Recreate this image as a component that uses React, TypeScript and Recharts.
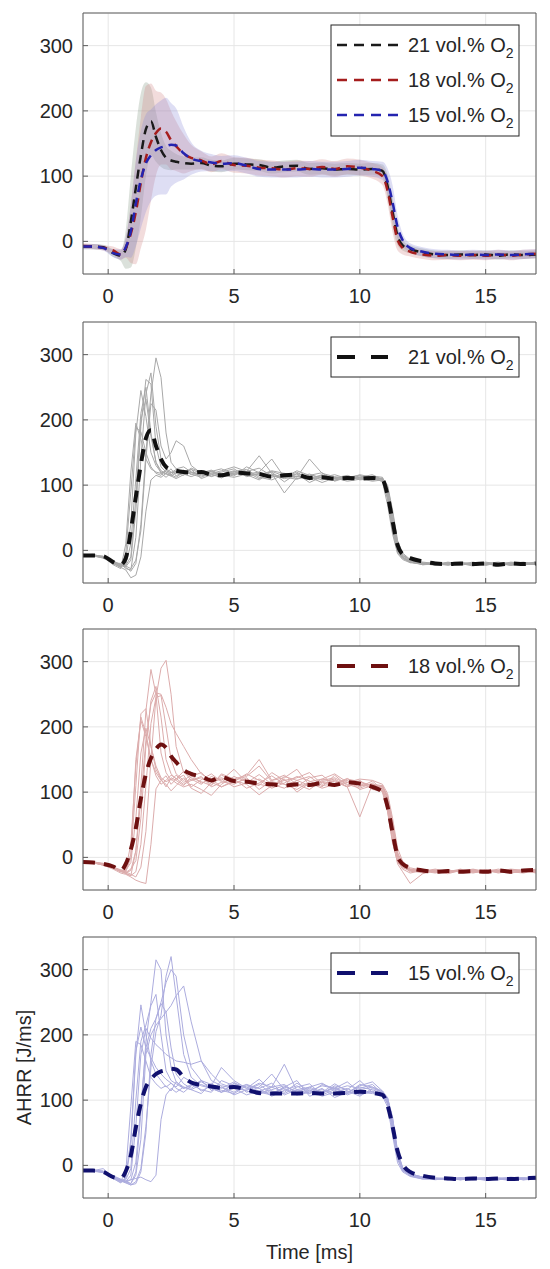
import React from "react";
import { ComposedChart, Line, Area, XAxis, YAxis, CartesianGrid } from "recharts";

// time grid [ms]
const time = [
  -1, -0.6, -0.2, 0.2, 0.5, 0.7, 0.9, 1.1, 1.3, 1.5, 1.7, 1.9, 2.1, 2.3, 2.5, 2.7, 3.0, 3.3, 3.7, 4.1, 4.5,
  5.0, 5.5, 6.0, 6.5, 7.0, 7.5, 8.0, 8.5, 9.0, 9.5, 10.0, 10.5, 10.9, 11.1, 11.3, 11.5, 11.7, 12.0, 12.5,
  13.0, 13.5, 14.0, 14.5, 15.0, 15.5, 16.0, 16.5, 17.0,
];

// mean AHRR per O2 level
const mean21 = [-8,-8,-9,-18,-22,-12,30,82,132,172,184,160,140,128,124,122,120,119,120,116,115,119,118,117,113,115,116,111,112,110,111,110,111,108,85,45,8,-6,-12,-17,-20,-21,-20,-21,-20,-22,-20,-21,-20];
const mean18 = [-7,-8,-10,-14,-20,-10,12,45,90,128,152,166,173,168,155,146,134,128,124,118,123,117,116,113,112,110,112,111,114,111,115,113,108,100,78,38,2,-10,-16,-20,-22,-21,-22,-21,-22,-20,-22,-20,-19];
const mean15 = [-8,-8,-10,-18,-20,-9,15,58,95,120,132,140,144,146,148,147,135,127,123,121,119,120,116,111,110,110,110,111,110,110,111,113,111,108,92,60,22,2,-10,-16,-19,-20,-21,-20,-21,-20,-21,-20,-19];

// spread of the shaded bands
const spread21 = [4,4,4,6,8,30,70,92,95,72,52,38,26,18,15,12,10,9,9,9,9,9,9,9,9,9,9,9,9,9,9,9,9,10,18,22,14,8,6,6,6,6,6,6,6,6,6,6,6];
const spread18 = [4,4,4,6,8,15,45,80,100,110,90,65,55,50,45,38,30,20,14,12,12,12,12,12,12,12,12,12,12,12,12,12,12,14,20,24,16,10,7,7,7,7,7,7,7,7,7,7,7];
const spread15 = [4,4,4,6,8,15,40,65,75,75,70,70,72,74,64,57,40,25,16,13,12,12,12,12,12,12,12,12,12,12,12,12,12,14,20,26,18,10,7,7,7,7,7,7,7,7,7,7,7];

// single runs, 21 vol.% O2
const runs21 = [
  [-6,-7,-10,-22,-28,10,120,195,170,140,125,120,118,122,119,121,118,120,116,114,117,122,115,118,112,118,110,113,108,112,109,112,110,107,80,30,-2,-12,-16,-20,-22,-19,-21,-18,-22,-20,-23,-19,-21],
  [-8,-8,-9,-20,-25,-5,90,188,182,150,128,118,115,124,116,112,120,124,118,121,125,116,120,110,117,112,120,108,115,111,106,109,113,110,95,52,8,-8,-14,-18,-20,-23,-19,-22,-20,-18,-21,-22,-20],
  [-7,-6,-11,-18,-24,-22,10,110,210,250,180,135,122,118,125,114,121,117,112,119,114,121,124,112,108,116,113,117,110,107,113,110,106,108,88,40,2,-10,-18,-21,-19,-22,-20,-24,-19,-21,-20,-18,-22],
  [-8,-9,-10,-16,-22,-25,-15,60,190,262,255,160,128,120,116,122,118,126,120,113,118,114,128,119,115,110,114,109,112,116,110,114,112,105,70,25,-5,-14,-19,-20,-22,-18,-21,-20,-23,-19,-22,-21,-19],
  [-6,-8,-12,-19,-20,-28,-30,20,140,240,272,190,140,125,120,118,115,124,110,116,120,125,113,117,120,105,118,112,104,111,115,108,110,109,90,45,5,-10,-17,-22,-20,-21,-23,-19,-20,-22,-18,-20,-21],
  [-7,-7,-9,-17,-23,-26,-32,-20,40,150,240,295,265,180,135,125,128,120,117,122,116,118,121,126,114,112,109,115,112,110,114,111,109,110,98,58,12,-6,-15,-19,-21,-20,-22,-20,-21,-19,-23,-20,-18],
  [-8,-9,-11,-18,-22,-24,-28,-15,30,140,225,215,160,140,150,168,160,130,118,121,113,117,119,115,122,118,113,110,116,108,112,115,107,111,100,62,15,-4,-14,-20,-19,-21,-20,-22,-21,-20,-19,-22,-20],
  [-7,-8,-10,-20,-26,-30,-42,-38,-10,60,108,115,112,118,114,110,116,119,114,117,111,120,116,108,121,114,117,104,113,110,108,112,116,108,85,35,0,-12,-18,-21,-22,-20,-19,-21,-22,-20,-21,-19,-20],
  [-9,-8,-10,-20,-26,-15,40,180,245,205,150,130,120,117,114,119,123,116,120,118,122,128,121,145,118,88,112,140,118,113,110,116,112,109,78,32,-4,-12,-18,-22,-21,-19,-20,-22,-18,-21,-20,-22,-21],
  [-7,-8,-11,-19,-24,-23,-10,80,200,232,175,135,118,112,119,124,117,113,119,123,115,112,117,120,140,112,122,115,119,106,112,109,114,112,92,48,6,-8,-16,-20,-23,-21,-19,-20,-21,-23,-20,-19,-22],
];

// single runs, 18 vol.% O2
const runs18 = [
  [-6,-8,-12,-15,-22,-18,20,140,215,190,150,130,118,125,112,120,126,108,119,128,116,112,122,104,118,126,112,110,120,116,108,118,104,102,72,25,-8,-16,-20,-24,-20,-22,-18,-23,-21,-20,-24,-19,-20],
  [-8,-7,-10,-16,-20,-22,0,110,220,228,170,135,120,108,122,118,110,124,130,115,120,108,114,127,112,106,118,124,110,113,121,110,112,106,80,35,-5,-18,-24,-20,-22,-25,-20,-22,-19,-24,-21,-20,-22],
  [-7,-8,-11,-14,-21,-25,-28,10,110,225,288,250,160,130,118,126,115,120,112,124,118,135,115,120,110,118,122,130,112,118,108,115,109,110,92,50,5,-12,-19,-22,-21,-19,-23,-20,-22,-18,-22,-24,-20],
  [-8,-9,-10,-15,-20,-22,-26,-30,-15,40,150,245,290,302,250,170,130,122,116,110,128,120,106,114,125,112,104,116,120,128,115,108,117,104,86,40,0,-14,-22,-20,-23,-20,-21,-24,-20,-22,-19,-21,-23],
  [-7,-7,-9,-16,-22,-24,-20,10,90,180,235,252,250,230,205,190,170,150,128,118,122,114,120,112,108,124,118,110,115,112,120,116,110,108,95,55,8,-10,-18,-22,-19,-21,-20,-22,-23,-20,-21,-19,-22],
  [-6,-8,-12,-18,-24,-26,-30,-35,-38,-40,20,105,118,112,102,110,122,106,98,115,108,118,112,96,110,120,100,114,106,112,118,104,110,102,75,28,-10,-22,-40,-25,-20,-23,-21,-18,-22,-20,-24,-21,-19],
  [-8,-8,-10,-17,-20,-23,-18,-5,60,170,240,262,215,150,128,120,132,118,122,112,126,118,124,140,116,112,108,122,126,110,115,120,118,112,98,60,14,-6,-16,-20,-22,-21,-20,-19,-21,-22,-20,-22,-20],
  [-7,-9,-11,-15,-19,-20,-8,60,160,198,170,140,122,116,120,114,108,112,104,95,112,124,116,110,130,118,112,104,118,122,112,106,114,100,70,22,-6,-14,-20,-21,-18,-22,-20,-21,-19,-20,-23,-22,-18],
  [-6,-7,-10,-16,-21,-24,-28,-22,20,110,205,245,248,200,150,128,118,126,114,120,108,116,128,118,106,114,124,117,108,126,110,113,106,109,90,48,4,-12,-19,-21,-24,-20,-22,-20,-21,-23,-19,-20,-21],
  [-8,-8,-11,-17,-22,-20,5,150,210,185,150,125,112,118,126,121,112,118,124,108,115,120,126,150,118,122,135,110,116,120,108,62,112,110,88,42,2,-12,-18,-20,-22,-24,-19,-20,-22,-21,-18,-20,-24],
];

// single runs, 15 vol.% O2
const runs15 = [
  [-7,-8,-5,-18,-24,-10,90,190,185,160,135,125,118,122,114,128,120,116,124,118,112,126,120,114,110,118,108,112,116,110,114,109,113,108,98,56,10,-8,-15,-19,-21,-20,-22,-19,-20,-21,-18,-20,-22],
  [-8,-8,-9,-20,-26,-20,30,170,246,200,160,140,130,120,126,118,112,122,130,115,120,112,124,118,106,115,122,110,118,104,112,120,116,110,104,70,18,-4,-13,-18,-20,-22,-20,-21,-19,-22,-20,-21,-20],
  [-7,-7,-10,-18,-22,-25,-28,-10,80,190,250,315,300,200,150,128,118,124,116,112,130,122,114,108,120,112,126,114,110,120,108,115,112,107,96,60,14,-5,-14,-19,-20,-21,-19,-22,-21,-20,-19,-21,-20],
  [-8,-9,-11,-19,-24,-27,-30,-25,-5,60,150,205,230,290,320,260,170,135,122,118,112,125,118,132,114,110,120,125,108,116,122,118,124,110,100,66,16,-6,-16,-20,-22,-20,-21,-20,-23,-19,-20,-22,-21],
  [-7,-8,-10,-17,-23,-26,-22,5,90,180,210,225,250,280,300,290,200,150,130,124,118,128,112,120,140,116,108,114,122,118,128,112,110,109,94,54,10,-8,-16,-21,-20,-22,-19,-20,-21,-22,-20,-19,-20],
  [-8,-8,-9,-16,-21,-24,-28,-15,40,170,200,215,225,235,245,260,275,220,160,130,122,118,115,124,110,120,130,106,112,118,110,124,120,112,102,72,20,-4,-14,-19,-21,-20,-22,-21,-19,-20,-22,-21,-20],
  [-7,-9,-10,-19,-25,-22,-5,100,190,215,245,262,200,145,130,125,118,122,128,120,115,110,122,118,126,108,116,120,112,125,114,106,118,112,99,62,12,-7,-15,-20,-19,-21,-20,-22,-20,-21,-23,-20,-19],
  [-8,-8,-10,-18,-22,-24,-22,-20,-18,-22,-25,-15,70,108,118,112,120,116,110,126,112,118,108,114,120,124,110,116,106,112,118,108,114,106,90,46,4,-10,-17,-21,-20,-19,-21,-20,-22,-20,-21,-19,-21],
  [-7,-7,-9,-17,-23,-25,-15,60,170,210,195,185,178,170,165,160,158,155,160,140,125,118,124,110,116,122,112,120,126,115,110,116,120,114,101,68,15,-5,-14,-18,-21,-20,-19,-21,-20,-22,-19,-20,-21],
  [-9,-8,-11,-20,-27,-18,40,175,212,180,165,150,140,132,126,120,135,128,114,122,150,130,118,112,108,120,114,110,124,118,112,122,128,114,104,74,22,-3,-13,-18,-20,-21,-22,-20,-19,-21,-20,-22,-20],
  [-8,-8,-10,-18,-23,-26,-30,-28,-10,50,170,225,248,235,180,140,125,118,130,115,120,108,116,126,120,155,114,118,110,122,116,130,112,108,96,58,10,-6,-15,-20,-21,-22,-20,-19,-20,-21,-20,-22,-21],
];

const xTicks = [0, 5, 10, 15];
const yTicks = [0, 100, 200, 300];

const rows = time.map((t, i) => {
  const row: Record<string, number | number[]> = {
    t,
    m21: mean21[i],
    m18: mean18[i],
    m15: mean15[i],
    b21: [mean21[i] - spread21[i], mean21[i] + spread21[i]],
    b18: [mean18[i] - spread18[i], mean18[i] + spread18[i]],
    b15: [mean15[i] - spread15[i], mean15[i] + spread15[i]],
  };
  runs21.forEach((r, k) => (row[`g${k}`] = r[i]));
  runs18.forEach((r, k) => (row[`r${k}`] = r[i]));
  runs15.forEach((r, k) => (row[`v${k}`] = r[i]));
  return row;
});

const FONT = "'Liberation Sans', Arial, Helvetica, sans-serif";
const INK = "#262626";
const AXIS = "#5c5c5c";
const FS = 20;
const tickFont = { fill: INK, fontSize: FS, fontFamily: FONT };

const axes = (xHeight: number, last: boolean) => [
  <CartesianGrid key="grid" stroke="#e6e6e6" />,
  <XAxis key="xt" xAxisId="top" orientation="top" type="number" dataKey="t" domain={[-1, 17]}
    ticks={xTicks} height={1} tick={false} tickSize={-5} axisLine={{ stroke: AXIS }} tickLine={{ stroke: AXIS }} />,
  <XAxis key="xb" type="number" dataKey="t" domain={[-1, 17]} ticks={xTicks} height={xHeight}
    tickSize={-5} tickMargin={20} tick={tickFont} axisLine={{ stroke: AXIS }} tickLine={{ stroke: AXIS }}
    label={last ? { value: "Time [ms]", position: "insideBottom", offset: 10, fill: INK, fontSize: FS, fontFamily: FONT } : undefined} />,
  <YAxis key="yl" domain={[-50, 350]} ticks={yTicks} width={83} allowDataOverflow
    tickSize={-5} tickMargin={15} tick={tickFont} axisLine={{ stroke: AXIS }} tickLine={{ stroke: AXIS }}
    label={last ? { value: "AHRR [J/ms]", angle: -90, position: "insideLeft", offset: 24, fill: INK, fontSize: FS, fontFamily: FONT, style: { textAnchor: "middle" } } : undefined} />,
  <YAxis key="yr" yAxisId="r" orientation="right" domain={[-50, 350]} ticks={yTicks} width={1}
    tick={false} tickSize={-5} axisLine={{ stroke: AXIS }} tickLine={{ stroke: AXIS }} />,
];

type LegendItem = { label: string; color: string };

const LegendBox = ({ top, items, big }: { top: number; items: LegendItem[]; big: boolean }) => {
  const h = big ? 40 : 111;
  return (
    <svg width={190} height={h + 2} style={{ position: "absolute", left: 330, top, overflow: "visible" }}>
      <rect x={1} y={1} width={188} height={h} fill="#fff" stroke={INK} strokeWidth={1} />
      {items.map((it, i) => {
        const cy = 21 + i * 35;
        return (
          <g key={it.label}>
            <line x1={7} x2={big ? 58 : 72} y1={cy} y2={cy} stroke={it.color}
              strokeWidth={big ? 4 : 2.5} strokeDasharray={big ? "18 16" : "10 7"} />
            <text x={78} y={cy + 7} fill={INK} fontSize={FS} fontFamily={FONT}>
              {it.label}
              <tspan fontSize={14} dy={6}>2</tspan>
            </text>
          </g>
        );
      })}
    </svg>
  );
};

const Panel = ({ top, height, xHeight, last, children, legend }: any) => (
  <div style={{ position: "absolute", left: 0, top, width: 550, height }}>
    <ComposedChart width={550} height={height} data={rows} margin={{ top: 12, right: 13, left: 0, bottom: 0 }}>
      {axes(xHeight, last)}
      {children}
    </ComposedChart>
    {legend}
  </div>
);

const traceLines = (prefix: string, n: number, color: string) =>
  Array.from({ length: n }, (_, k) => (
    <Line key={`${prefix}${k}`} type="linear" dataKey={`${prefix}${k}`} stroke={color} strokeWidth={1}
      dot={false} isAnimationActive={false} />
  ));

const meanLine = (key: string, color: string, width: number, dash: string) => (
  <Line key={`mean-${key}`} type="monotone" dataKey={key} stroke={color} strokeWidth={width}
    strokeDasharray={dash} dot={false} isAnimationActive={false} />
);

export default function App() {
  return (
    <div style={{ position: "absolute", left: 0, top: 0, width: 550, height: 1269, background: "#fff" }}>
      <Panel top={0} height={308} xHeight={34} last={false}
        legend={<LegendBox top={24} big={false} items={[
          { label: "21 vol.% O", color: "#1a1a1a" },
          { label: "18 vol.% O", color: "#a51d1d" },
          { label: "15 vol.% O", color: "#2424b0" },
        ]} />}>
        <Area type="monotone" dataKey="b21" stroke="none" fill="#7f937f" fillOpacity={0.28} isAnimationActive={false} />
        <Area type="monotone" dataKey="b18" stroke="none" fill="#d08282" fillOpacity={0.28} isAnimationActive={false} />
        <Area type="monotone" dataKey="b15" stroke="none" fill="#8a8ad8" fillOpacity={0.28} isAnimationActive={false} />
        {meanLine("m21", "#1a1a1a", 2.5, "9 6")}
        {meanLine("m18", "#a51d1d", 2.5, "9 6")}
        {meanLine("m15", "#2424b0", 2.5, "9 6")}
      </Panel>

      <Panel top={309} height={308} xHeight={34} last={false}
        legend={<LegendBox top={27} big items={[{ label: "21 vol.% O", color: "#111" }]} />}>
        {traceLines("g", runs21.length, "#a8a8a8")}
        {meanLine("m21", "#111111", 4, "12 9")}
      </Panel>

      <Panel top={616} height={308} xHeight={34} last={false}
        legend={<LegendBox top={29} big items={[{ label: "18 vol.% O", color: "#6e1010" }]} />}>
        {traceLines("r", runs18.length, "#dcacac")}
        {meanLine("m18", "#6e1010", 4, "12 9")}
      </Panel>

      <Panel top={924} height={345} xHeight={71} last
        legend={<LegendBox top={28} big items={[{ label: "15 vol.% O", color: "#10106e" }]} />}>
        {traceLines("v", runs15.length, "#acacde")}
        {meanLine("m15", "#10106e", 4, "12 9")}
      </Panel>
    </div>
  );
}
